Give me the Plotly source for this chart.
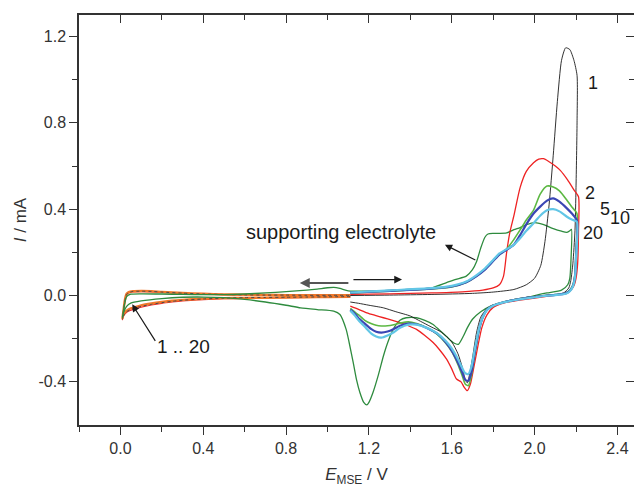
import plotly.graph_objects as go

# ---- potential / current data (E in V vs MSE, I in mA) ----

# low-potential window (1.11 V -> 0 V -> 1.11 V), cycles 1 .. 20
e_low = [1.11, 1.0, 0.9, 0.8, 0.7, 0.6, 0.5, 0.4, 0.3, 0.25, 0.2, 0.15, 0.1, 0.07, 0.05, 0.03,
         0.02, 0.012, 0.01, 0.012, 0.016, 0.02, 0.025, 0.03, 0.04, 0.06, 0.1, 0.15, 0.2, 0.3,
         0.4, 0.5, 0.6, 0.7, 0.8, 0.9, 1.0, 1.11]
i_low_orange = [-0.006, -0.007, -0.008, -0.009, -0.01, -0.011, -0.012, -0.015, -0.02, -0.024,
                -0.03, -0.037, -0.046, -0.054, -0.06, -0.07, -0.08, -0.095, -0.105, -0.09,
                -0.06, -0.03, -0.005, 0.008, 0.016, 0.02, 0.021, 0.02, 0.017, 0.012, 0.008,
                0.005, 0.004, 0.003, 0.002, 0.002, 0.002, 0.002]
i_low_cycle1 = [-0.005, -0.006, -0.007, -0.008, -0.009, -0.01, -0.012, -0.016, -0.022, -0.027,
                -0.033, -0.041, -0.05, -0.058, -0.065, -0.075, -0.085, -0.1, -0.11, -0.095,
                -0.065, -0.035, -0.008, 0.006, 0.014, 0.019, 0.02, 0.019, 0.016, 0.011, 0.007,
                0.005, 0.003, 0.002, 0.002, 0.001, 0.001, 0.001]
i_low_cycle2 = [-0.007, -0.008, -0.009, -0.01, -0.011, -0.013, -0.015, -0.019, -0.025, -0.03,
                -0.036, -0.044, -0.054, -0.062, -0.068, -0.078, -0.088, -0.102, -0.112, -0.097,
                -0.067, -0.036, -0.01, 0.004, 0.012, 0.017, 0.018, 0.017, 0.014, 0.01, 0.006,
                0.004, 0.003, 0.002, 0.001, 0.001, 0.001, 0.001]

# cycle 1 (1.11 V -> 2.2 V -> 1.11 V)
e_c1 = [1.11, 1.3, 1.5, 1.7, 1.8, 1.9, 1.96, 2.0, 2.03, 2.05, 2.07, 2.09, 2.11, 2.13, 2.15, 2.17,
        2.19, 2.205, 2.205, 2.2, 2.195, 2.185, 2.175, 2.165, 2.14, 2.1, 2.05, 2.0, 1.95, 1.9,
        1.85, 1.8, 1.77, 1.74, 1.72, 1.70, 1.685, 1.675, 1.665, 1.65, 1.63, 1.6, 1.55, 1.5,
        1.45, 1.4, 1.33, 1.27, 1.2, 1.15, 1.11]
i_c1 = [0.0, 0.002, 0.005, 0.01, 0.016, 0.028, 0.05, 0.08, 0.14, 0.25, 0.42, 0.65, 0.9, 1.09,
        1.148, 1.14, 1.09, 1.02, 0.8, 0.5, 0.3, 0.15, 0.07, 0.035, 0.012, 0.004, 0.0, -0.004,
        -0.01, -0.018, -0.03, -0.045, -0.06, -0.1, -0.17, -0.29, -0.37, -0.405, -0.39, -0.33,
        -0.27, -0.215, -0.17, -0.145, -0.12, -0.095, -0.075, -0.057, -0.045, -0.036, -0.03]

# cycle 2
e_c2 = [1.11, 1.3, 1.5, 1.65, 1.75, 1.8, 1.83, 1.85, 1.865, 1.88, 1.9, 1.93, 1.96, 1.995, 2.02,
        2.043, 2.07, 2.1, 2.124, 2.16, 2.19, 2.212, 2.212, 2.208, 2.2, 2.19, 2.17, 2.12, 2.05,
        2.0, 1.92, 1.85, 1.8, 1.77, 1.745, 1.725, 1.705, 1.69, 1.675, 1.66, 1.645, 1.623, 1.6,
        1.575, 1.54, 1.51, 1.47, 1.43, 1.39, 1.35, 1.31, 1.27, 1.23, 1.19, 1.15, 1.11]
i_c2 = [0.005, 0.008, 0.012, 0.017, 0.025, 0.035, 0.05, 0.09, 0.2, 0.29, 0.37, 0.5, 0.575, 0.615,
        0.632, 0.634, 0.62, 0.6, 0.58, 0.535, 0.49, 0.458, 0.3, 0.15, 0.08, 0.045, 0.02, 0.005,
        -0.005, -0.012, -0.022, -0.035, -0.055, -0.09, -0.15, -0.24, -0.34, -0.41, -0.441,
        -0.425, -0.4, -0.387, -0.34, -0.295, -0.25, -0.218, -0.185, -0.157, -0.14, -0.126,
        -0.114, -0.103, -0.092, -0.08, -0.064, -0.049]

# cycles 5, 10 and 20 share the same potential grid
e_late = [1.11, 1.3, 1.5, 1.6, 1.67, 1.72, 1.76, 1.8, 1.83, 1.865, 1.9, 1.93, 1.96, 1.995, 2.027,
          2.06, 2.09, 2.12, 2.156, 2.18, 2.204,
          2.2, 2.195, 2.185, 2.17, 2.15, 2.1, 2.05, 2.0, 1.95, 1.9, 1.85, 1.8, 1.77, 1.75, 1.73,
          1.71, 1.695, 1.68, 1.665, 1.65, 1.63, 1.6, 1.57, 1.53, 1.48, 1.43, 1.39, 1.35, 1.32,
          1.29, 1.26, 1.235, 1.21, 1.18, 1.15, 1.13, 1.11]
i_c5 = [0.012, 0.02, 0.03, 0.04, 0.06, 0.09, 0.12, 0.16, 0.19, 0.215, 0.26, 0.304, 0.35, 0.396,
        0.47, 0.507, 0.503, 0.485, 0.442, 0.41, 0.381,
        0.2, 0.1, 0.05, 0.025, 0.012, 0.004, 0.0, -0.006, -0.012, -0.02, -0.03, -0.045, -0.065,
        -0.1, -0.17, -0.28, -0.37, -0.418, -0.41, -0.37, -0.32, -0.26, -0.22, -0.18, -0.15,
        -0.13, -0.122, -0.128, -0.135, -0.14, -0.141, -0.138, -0.13, -0.115, -0.09, -0.075,
        -0.06]
i_c10 = [0.013, 0.022, 0.032, 0.042, 0.062, 0.09, 0.12, 0.16, 0.19, 0.212, 0.235, 0.28, 0.33,
         0.38, 0.412, 0.44, 0.45, 0.435, 0.404, 0.38, 0.35,
         0.18, 0.09, 0.045, 0.022, 0.01, 0.003, -0.001, -0.007, -0.013, -0.021, -0.031, -0.046,
         -0.066, -0.1, -0.165, -0.27, -0.355, -0.395, -0.39, -0.355, -0.31, -0.255, -0.215,
         -0.177, -0.15, -0.133, -0.13, -0.14, -0.155, -0.167, -0.172, -0.168, -0.155, -0.13,
         -0.105, -0.082, -0.065]
i_c20 = [0.014, 0.024, 0.034, 0.045, 0.065, 0.095, 0.125, 0.165, 0.195, 0.215, 0.235, 0.265,
         0.3, 0.335, 0.37, 0.395, 0.4, 0.39, 0.365, 0.352, 0.342,
         0.17, 0.085, 0.042, 0.02, 0.008, 0.002, -0.002, -0.008, -0.014, -0.022, -0.032, -0.047,
         -0.067, -0.1, -0.16, -0.255, -0.33, -0.364, -0.36, -0.335, -0.295, -0.245, -0.21,
         -0.175, -0.15, -0.135, -0.135, -0.15, -0.17, -0.185, -0.195, -0.19, -0.175, -0.145,
         -0.115, -0.09, -0.07]

# supporting electrolyte, full window
e_se = [0.01, 0.02, 0.03, 0.05, 0.1, 0.2, 0.3, 0.4, 0.5, 0.6, 0.7, 0.8, 0.9, 0.95, 1.0, 1.03,
        1.06, 1.1, 1.2, 1.3, 1.4, 1.5, 1.575, 1.62, 1.67, 1.7, 1.72, 1.74, 1.76, 1.775, 1.8, 1.83,
        1.865, 1.9, 1.93, 1.96, 2.0, 2.04, 2.09, 2.13, 2.156, 2.17, 2.178,
        2.175, 2.17, 2.16, 2.13, 2.06, 2.0, 1.914, 1.85, 1.785, 1.74, 1.70, 1.675, 1.655, 1.632,
        1.61, 1.575, 1.54, 1.51, 1.47, 1.43, 1.38, 1.35, 1.317, 1.29, 1.27, 1.245, 1.22, 1.2,
        1.19, 1.175, 1.156, 1.14, 1.124, 1.105, 1.09, 1.06, 1.03, 0.95, 0.87, 0.8, 0.7, 0.6,
        0.5, 0.4, 0.3, 0.2, 0.1, 0.05, 0.03, 0.015, 0.01]
i_se = [-0.1, -0.04, -0.005, 0.006, 0.008, 0.007, 0.005, 0.004, 0.004, 0.007, 0.012, 0.018,
        0.025, 0.03, 0.036, 0.038, 0.033, 0.022, 0.02, 0.024, 0.028, 0.035, 0.06, 0.075, 0.09,
        0.12, 0.158, 0.22, 0.27, 0.285, 0.288, 0.288, 0.29, 0.305, 0.315, 0.328, 0.338, 0.33,
        0.31, 0.298, 0.293, 0.3, 0.307,
        0.15, 0.08, 0.05, 0.025, 0.012, 0.0, -0.02, -0.032, -0.05, -0.075, -0.11, -0.15, -0.19,
        -0.226, -0.22, -0.19, -0.16, -0.134, -0.115, -0.103, -0.103, -0.115, -0.157, -0.22,
        -0.28, -0.37, -0.448, -0.495, -0.507, -0.495, -0.448, -0.39, -0.31, -0.22, -0.157,
        -0.088, -0.072, -0.065, -0.057, -0.045, -0.03, -0.018, -0.01, -0.007, -0.008, -0.014,
        -0.025, -0.035, -0.05, -0.08, -0.1]

# axis ticks
x_tick_vals = [0.0, 0.4, 0.8, 1.2, 1.6, 2.0, 2.4]
x_tick_text = ["0.0", "0.4", "0.8", "1.2", "1.6", "2.0", "2.4"]
y_tick_vals = [-0.4, 0.0, 0.4, 0.8, 1.2]
y_tick_text = ["-0.4", "0.0", "0.4", "0.8", "1.2"]
x_minor_vals = [-0.2, 0.2, 0.6, 1.0, 1.4, 1.8, 2.2]
y_minor_vals = [-0.2, 0.2, 0.6, 1.0]
x_range = [-0.2, 2.48]
y_range = [-0.6, 1.3]

# curve labels
cycle_labels = ["1", "2", "5", "10", "20"]
cycle_label_e = [2.283, 2.269, 2.342, 2.414, 2.283]
cycle_label_i = [0.986, 0.475, 0.40, 0.36, 0.29]

FONT = "Liberation Sans, Arial, sans-serif"
AXIS_COLOR = "#333333"

fig = go.Figure()


def add_line(x, y, color, width, dash="solid"):
    fig.add_trace(go.Scatter(x=x, y=y, mode="lines", showlegend=False, hoverinfo="skip",
                             line=dict(color=color, width=width, dash=dash, shape="spline",
                                       smoothing=0.6)))


# low-potential loops
add_line(e_low, i_low_cycle2, "#e8262a", 1.2)
add_line(e_low, i_low_orange, "#f0782a", 2.4)
add_line(e_low, i_low_cycle1, "#4a4a4a", 1.0, "dot")

# supporting electrolyte
add_line(e_se, i_se, "#2e8b3e", 1.3)

# cycles
add_line(e_c1, i_c1, "#1a1a1a", 0.9)
add_line(e_c2, i_c2, "#ee2222", 1.3)
add_line(e_late, i_c5, "#5cb843", 1.6)
add_line(e_late, i_c10, "#3a46b4", 2.2)
add_line(e_late, i_c20, "#62c6e6", 2.2)

# empty trace anchoring the mirrored top / right axes
fig.add_trace(go.Scatter(x=[None], y=[None], xaxis="x2", yaxis="y2", showlegend=False,
                         hoverinfo="skip"))

tick_font = dict(family=FONT, size=16, color=AXIS_COLOR)

fig.update_layout(
    width=634, height=487,
    margin=dict(l=79, r=0, t=15, b=62),
    paper_bgcolor="white", plot_bgcolor="white",
    font=dict(family=FONT, color="#222222"),
    xaxis=dict(range=x_range, showgrid=False, zeroline=False, showline=True,
               linecolor=AXIS_COLOR, linewidth=1.5, ticks="outside", ticklen=8, tickwidth=1.3,
               tickcolor=AXIS_COLOR, tickmode="array", tickvals=x_tick_vals,
               ticktext=x_tick_text, tickfont=tick_font,
               minor=dict(tickmode="array", tickvals=x_minor_vals, ticks="outside", ticklen=5,
                          tickwidth=1.3, tickcolor=AXIS_COLOR),
               title=dict(text="<i>E</i><sub>MSE</sub> / V", standoff=16,
                          font=dict(family=FONT, size=17, color=AXIS_COLOR))),
    yaxis=dict(range=y_range, showgrid=False, zeroline=False, showline=True,
               linecolor=AXIS_COLOR, linewidth=1.5, ticks="outside", ticklen=8, tickwidth=1.3,
               tickcolor=AXIS_COLOR, tickmode="array", tickvals=y_tick_vals,
               ticktext=y_tick_text, tickfont=tick_font,
               minor=dict(tickmode="array", tickvals=y_minor_vals, ticks="outside", ticklen=5,
                          tickwidth=1.3, tickcolor=AXIS_COLOR),
               title=dict(text="<i>I</i> / mA", standoff=8,
                          font=dict(family=FONT, size=17, color=AXIS_COLOR))),
    xaxis2=dict(range=x_range, overlaying="x", side="top", anchor="y2", showgrid=False,
                zeroline=False, showline=True, linecolor=AXIS_COLOR, linewidth=1.5,
                ticks="inside", ticklen=8, tickwidth=1.3, tickcolor=AXIS_COLOR,
                tickmode="array", tickvals=x_tick_vals, showticklabels=False,
                minor=dict(tickmode="array", tickvals=x_minor_vals, ticks="inside", ticklen=5,
                           tickwidth=1.3, tickcolor=AXIS_COLOR)),
    yaxis2=dict(range=y_range, overlaying="y", side="right", anchor="x2", showgrid=False,
                zeroline=False, showline=True, linecolor=AXIS_COLOR, linewidth=1.5,
                ticks="inside", ticklen=8, tickwidth=1.3, tickcolor=AXIS_COLOR,
                tickmode="array", tickvals=y_tick_vals, showticklabels=False,
                minor=dict(tickmode="array", tickvals=y_minor_vals, ticks="inside", ticklen=5,
                           tickwidth=1.3, tickcolor=AXIS_COLOR)),
)

label_font = dict(family=FONT, size=18, color="#1a1a1a")

for txt, ex, iy in zip(cycle_labels, cycle_label_e, cycle_label_i):
    fig.add_annotation(x=ex, y=iy, text=txt, showarrow=False, font=label_font,
                       xanchor="center", yanchor="middle")

# supporting electrolyte label and pointer
fig.add_annotation(x=1.064, y=0.295, text="supporting electrolyte", showarrow=False,
                   font=dict(family=FONT, size=20, color="#1a1a1a"),
                   xanchor="center", yanchor="middle")
fig.add_annotation(x=1.567, y=0.235, ax=1.721, ay=0.161, axref="x", ayref="y", text="",
                   showarrow=True, arrowhead=2, arrowsize=1.2, arrowwidth=1.2,
                   arrowcolor="#1a1a1a")

# scan direction arrows
fig.add_annotation(x=0.866, y=0.0585, ax=1.108, ay=0.0585, axref="x", ayref="y", text="",
                   showarrow=True, arrowhead=2, arrowsize=1.0, arrowwidth=2.0,
                   arrowcolor="#555555")
fig.add_annotation(x=1.36, y=0.074, ax=1.118, ay=0.074, axref="x", ayref="y", text="",
                   showarrow=True, arrowhead=2, arrowsize=1.3, arrowwidth=1.2,
                   arrowcolor="#1a1a1a")

# cycles 1 .. 20 label and pointer
fig.add_annotation(x=0.307, y=-0.238, text="1 .. 20", showarrow=False,
                   font=dict(family=FONT, size=19, color="#1a1a1a"),
                   xanchor="center", yanchor="middle")
fig.add_annotation(x=0.057, y=-0.041, ax=0.173, ay=-0.217, axref="x", ayref="y", text="",
                   showarrow=True, arrowhead=2, arrowsize=1.2, arrowwidth=1.2,
                   arrowcolor="#1a1a1a")

fig.write_html("out.html")
